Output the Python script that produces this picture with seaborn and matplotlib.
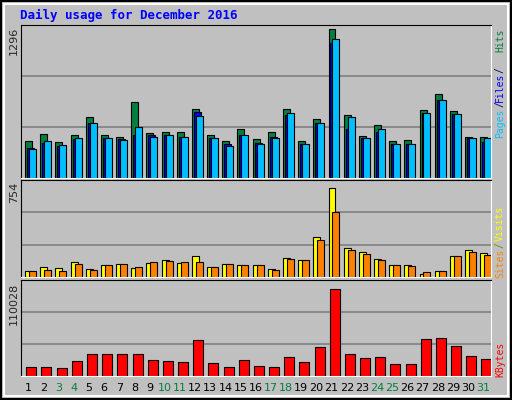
import numpy as np
import matplotlib
matplotlib.use('Agg')
import matplotlib.pyplot as plt
import seaborn as sns

days = list(range(1, 32))
weekend = [3, 4, 10, 11, 17, 18, 24, 25, 31]

hits = [319, 388, 311, 379, 533, 379, 362, 661, 396, 405, 405, 601, 379, 319, 430, 336,
        405, 601, 319, 516, 1296, 550, 370, 465, 319, 328, 593, 730, 584, 362, 362]
files = [259, 302, 276, 336, 481, 353, 336, 371, 371, 371, 362, 575, 345, 294, 379, 302,
         362, 550, 294, 481, 1174, 430, 353, 405, 294, 294, 567, 678, 561, 345, 311]
pages = [251, 319, 285, 353, 481, 353, 328, 448, 362, 371, 362, 541, 345, 276, 379, 294,
         353, 567, 294, 481, 1217, 533, 353, 430, 294, 294, 567, 684, 561, 345, 345]
visits = [47, 79, 71, 126, 63, 102, 110, 71, 118, 141, 118, 173, 79, 110, 102, 94,
          63, 157, 141, 330, 723, 236, 204, 149, 94, 94, 24, 47, 173, 220, 196]
sites = [47, 55, 47, 110, 55, 94, 110, 79, 126, 134, 126, 126, 79, 110, 102, 102,
         55, 149, 141, 299, 534, 220, 189, 141, 94, 86, 39, 47, 173, 204, 181]
kbytes = [10774, 10774, 9620, 17700, 26933, 26933, 26933, 26933, 18854, 17700, 16546, 43090, 15391, 10774, 18854, 11928,
          10774, 22317, 16546, 34862, 105000, 26933, 21163, 22317, 14237, 14237, 44244, 45398, 36016, 23472, 20008]

sns.set_style('white')
plt.rcParams['font.family'] = ['DejaVu Sans Mono', 'DejaVu Sans']
bg = '#C0C0C0'
fig = plt.figure(figsize=(5.12, 4.0), dpi=100, facecolor=bg)

def rect(top, bottom):
    return [20.7 / 512, 1 - bottom / 400, (491 - 20.7) / 512, (bottom - top) / 400]

x = np.array(days) - 1
kw = dict(align='edge', edgecolor='black', linewidth=0.8)

def setup(ax, vmax):
    ax.set_facecolor(bg)
    ax.set_xlim(0, 31)
    ax.set_ylim(0, vmax)
    for t in (1, 2):
        ax.axhline(vmax * t / 3, color='#808080', lw=1.2, zorder=0)
    ax.set_xticks([])
    ax.set_yticks([])
    for s in ax.spines.values():
        s.set_color('black')
    ax.spines['bottom'].set_color('white')
    ax.spines['right'].set_color('white')

ax1 = fig.add_axes(rect(25, 178))
setup(ax1, 1296 * 1.03)
ax1.bar(x + 0.29, hits, width=0.46, color='#008040', **kw)
ax1.bar(x + 0.42, files, width=0.46, color='#0000FF', **kw)
ax1.bar(x + 0.55, pages, width=0.46, color='#00BFFF', **kw)

ax2 = fig.add_axes(rect(180, 277))
setup(ax2, 754 * 1.05)
ax2.bar(x + 0.29, visits, width=0.46, color='#FFFF00', **kw)
ax2.bar(x + 0.55, sites, width=0.46, color='#FF8000', **kw)

ax3 = fig.add_axes(rect(280, 376))
setup(ax3, 110028 * 1.05)
ax3.bar(x + 0.37, kbytes, width=0.66, color='#FF0000', **kw)

for d in days:
    fig.text((20.7 + (d - 0.5) * 15.17) / 512, 1 - 388 / 400, str(d), ha='center', va='center',
             fontsize=8, family='DejaVu Sans', color='#008040' if d in weekend else 'black')

fig.text(20 / 512, 1 - 15 / 400, 'Daily usage for December 2016', color='#0000FF',
         fontsize=9, fontweight='bold', va='center')

def ylab(txt, y):
    fig.text(14 / 512, 1 - y / 400, txt, rotation=90, ha='center', va='top',
             fontsize=8, family='DejaVu Sans')
ylab('1296', 27)
ylab('754', 182)
ylab('110028', 283)

def rlab(txt, y, c):
    fig.text(500 / 512, 1 - y / 400, txt, rotation=90, ha='center', va='center',
             fontsize=7, color=c)
rlab('Pages', 123, '#00BFFF')
rlab('/', 104, '#000080')
rlab('Files', 87, '#0000FF')
rlab('/', 70, '#000080')
rlab('Hits', 55 - 15, '#008040')
rlab('Sites', 263, '#FF8000')
rlab('/', 245, '#808000')
rlab('Visits', 223, '#FFFF00')
rlab('KBytes', 359, '#FF0000')

fig.patches.append(plt.Rectangle((0.002, 0.003), 0.996, 0.994, transform=fig.transFigure,
                                 fill=False, edgecolor='black', lw=1.5))
fig.patches.append(plt.Rectangle((0.008, 0.01), 0.984, 0.98, transform=fig.transFigure,
                                 fill=False, edgecolor='white', lw=1.5))
fig.savefig('out.png', dpi=100, facecolor=bg)
